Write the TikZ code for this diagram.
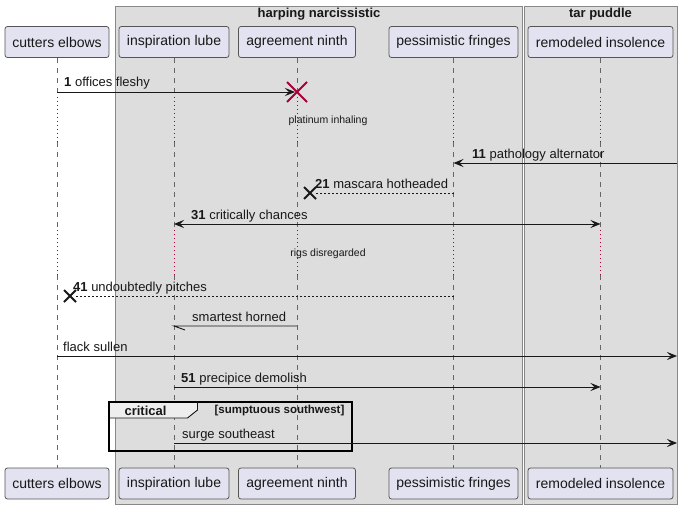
\documentclass[tikz,border=0pt]{standalone}
\usepackage{fontspec}
\setmainfont{Liberation Sans}
\usetikzlibrary{arrows.meta,calc}
\definecolor{partfill}{HTML}{E2E2F0}
\definecolor{partline}{HTML}{555555}
\definecolor{boxfill}{HTML}{DDDDDD}
\definecolor{boxline}{HTML}{888888}
\definecolor{ink}{HTML}{181818}
\definecolor{lifegray}{HTML}{666666}
\definecolor{delayred}{HTML}{A80036}
\definecolor{tabfill}{HTML}{EEEEEE}
\tikzset{
  part/.style={draw=partline, fill=partfill, line width=0.8pt, rounded corners=2.5pt,
    minimum height=31pt, inner sep=0pt, font=\fontsize{14}{16}\selectfont, text=ink},
  lifeline/.style={draw=lifegray, line width=0.6pt, dash pattern=on 5pt off 5pt},
  delayline/.style={draw=delayred, line width=0.8pt, dash pattern=on 1pt off 3pt},
  msg/.style={draw=ink, line width=0.9pt},
  dmsg/.style={draw=ink, line width=0.9pt, dash pattern=on 2pt off 2pt},
  tip/.style={-{Stealth[length=10pt,width=8pt,inset=4pt]}},
  lbl/.style={anchor=base west, inner sep=0pt, font=\fontsize{13}{15}\selectfont, text=ink},
  dlbl/.style={inner sep=0pt, font=\fontsize{10.5}{12}\selectfont, text=ink},
  ttl/.style={inner sep=0pt, font=\bfseries\fontsize{13}{15}\selectfont, text=ink},
}
\begin{document}
\begin{tikzpicture}[x=1pt,y=-1pt]
\useasboundingbox (0,0) rectangle (683,508);
\fill[white] (0,0) rectangle (683,508);
% boxes
\draw[boxline, fill=boxfill, line width=0.9pt] (115.5,6.5) rectangle (522.5,504);
\draw[boxline, fill=boxfill, line width=0.9pt] (524.5,6.5) rectangle (677.5,504);
\node[ttl] (t1) at (319,14.5) {harping narcissistic};
\node[ttl] (t2) at (600.5,14.5) {tar puddle};
% participants
\node[part, minimum width=104pt] (p1) at (57,42) {cutters elbows};
\node[part, minimum width=110pt] (p2) at (174,42) {inspiration lube};
\node[part, minimum width=117pt] (p3) at (297,42) {agreement ninth};
\node[part, minimum width=129pt] (p4) at (453.5,42) {pessimistic fringes};
\node[part, minimum width=145pt] (p5) at (600.5,42) {remodeled insolence};
\node[part, minimum width=104pt] (q1) at (57,483.5) {cutters elbows};
\node[part, minimum width=110pt] (q2) at (174,483.5) {inspiration lube};
\node[part, minimum width=117pt] (q3) at (297,483.5) {agreement ninth};
\node[part, minimum width=129pt] (q4) at (453.5,483.5) {pessimistic fringes};
\node[part, minimum width=145pt] (q5) at (600.5,483.5) {remodeled insolence};
% delay rows
\coordinate (da1) at (0,97);
\coordinate (db1) at (0,142);
\coordinate (da2) at (0,230);
\coordinate (db2) at (0,275);
\foreach \i in {1,...,5}{
  \draw[lifeline] (p\i.south) -- (p\i.south |- da1);
  \draw[delayline] (p\i.south |- da1) -- (p\i.south |- db1);
  \draw[lifeline] (p\i.south |- db1) -- (p\i.south |- da2);
  \draw[delayline] (p\i.south |- da2) -- (p\i.south |- db2);
  \draw[lifeline] (p\i.south |- db2) -- (q\i.north);
}
\node[dlbl] (dt1) at (328,121) {platinum inhaling};
\node[dlbl] (dt2) at (328,254) {rigs disregarded};
% message rows
\coordinate (r1) at (0,92);
\coordinate (r11) at (0,163);
\coordinate (r21) at (0,193);
\coordinate (r31) at (0,224);
\coordinate (r41) at (0,296);
\coordinate (r6) at (0,326);
\coordinate (r7) at (0,356);
\coordinate (r51) at (0,387);
\coordinate (r9) at (0,443);
\coordinate (edge) at (677,0);
% 1
\draw[msg, tip] (p1 |- r1) -- ($(p3 |- r1)+(-2,0)$);
\coordinate (x1) at (p3 |- r1);
\draw[delayred, line width=2pt] ($(x1)+(-10,-10)$) -- ($(x1)+(10,10)$);
\draw[delayred, line width=2pt] ($(x1)+(-10,10)$) -- ($(x1)+(10,-10)$);
\node[lbl] (l1) at (64,87) {\textbf{1} offices fleshy};
% 11
\draw[msg, tip] (edge |- r11) -- (p4 |- r11);
\node[lbl] (l11) at (472,158.5) {\textbf{11} pathology alternator};
% 21
\coordinate (x21) at (310,193);
\draw[dmsg] (p4 |- r21) -- ($(x21)+(6,0)$);
\draw[ink, line width=1.8pt] ($(x21)+(-6,-6)$) -- ($(x21)+(6,6)$);
\draw[ink, line width=1.8pt] ($(x21)+(-6,6)$) -- ($(x21)+(6,-6)$);
\node[lbl] (l21) at (315,188.5) {\textbf{21} mascara hotheaded};
% 31
\draw[msg, {Stealth[length=10pt,width=8pt,inset=4pt]}-{Stealth[length=10pt,width=8pt,inset=4pt]}] (p2 |- r31) -- (p5 |- r31);
\node[lbl] (l31) at (191,219) {\textbf{31} critically chances};
% 41
\coordinate (x41) at (70,296);
\draw[dmsg] (p4 |- r41) -- ($(x41)+(6,0)$);
\draw[ink, line width=1.8pt] ($(x41)+(-6,-6)$) -- ($(x41)+(6,6)$);
\draw[ink, line width=1.8pt] ($(x41)+(-6,6)$) -- ($(x41)+(6,-6)$);
\node[lbl] (l41) at (73,291.5) {\textbf{41} undoubtedly pitches};
% smartest horned
\draw[msg] (p3 |- r6) -- (p2 |- r6) -- ++(11,4);
\node[lbl] (l6) at (192,321.5) {smartest horned};
% flack sullen
\draw[msg, tip] (p1 |- r7) -- (edge |- r7);
\node[lbl] (l7) at (63,351.5) {flack sullen};
% 51
\draw[msg, tip] (p2 |- r51) -- (p5 |- r51);
\node[lbl] (l51) at (181,382.5) {\textbf{51} precipice demolish};
% critical group
\draw[fill=tabfill, draw=ink, line width=0.9pt] (109,402) -- (197.5,402) -- (197.5,410) -- (187.5,418) -- (109,418) -- cycle;
\draw[draw=black, line width=1.6pt] (109,402) rectangle (352,451);
\node[ttl] (gt) at (145.5,411) {critical};
\node[inner sep=0pt, font=\bfseries\fontsize{11.5}{13}\selectfont, text=ink] (gc) at (279.5,411) {[sumptuous southwest]};
% surge southeast
\draw[msg, tip] (p2 |- r9) -- (edge |- r9);
\node[lbl] (l9) at (182,438.5) {surge southeast};
\end{tikzpicture}
\end{document}
